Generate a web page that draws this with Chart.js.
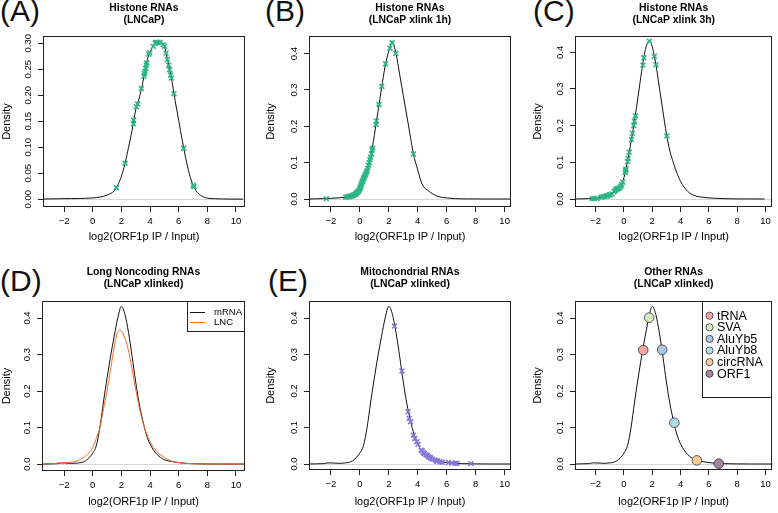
<!DOCTYPE html>
<html><head><meta charset="utf-8">
<script src="https://cdn.jsdelivr.net/npm/chart.js@4.4.0/dist/chart.umd.min.js"></script>
<style>
html,body{margin:0;padding:0;background:#fff;}
body{width:778px;height:513px;position:relative;overflow:hidden;}
canvas{position:absolute;}
.lab{position:absolute;font-family:'Liberation Sans',Arial,sans-serif;font-size:30px;line-height:30px;color:#111;white-space:nowrap;}
</style></head><body>
<div class="lab" style="left:0px;top:-4px">(A)</div>
<div class="lab" style="left:265px;top:-4px">(B)</div>
<div class="lab" style="left:533px;top:-4px">(C)</div>
<div class="lab" style="left:0px;top:266px">(D)</div>
<div class="lab" style="left:268px;top:266px">(E)</div>
<canvas id="cA" width="258" height="246" style="left:0px;top:0px"></canvas>
<canvas id="cB" width="260" height="246" style="left:264px;top:0px"></canvas>
<canvas id="cC" width="247" height="246" style="left:531px;top:0px"></canvas>
<canvas id="cD" width="258" height="247" style="left:0px;top:264px"></canvas>
<canvas id="cE" width="260" height="247" style="left:264px;top:264px"></canvas>
<canvas id="cF" width="247" height="247" style="left:531px;top:264px"></canvas>
<script>
// ---------- axis ticks ----------
const xTickValues = [-2, 0, 2, 4, 6, 8, 10];
const xTickLabels = ['\u22122', '0', '2', '4', '6', '8', '10'];
const yTicksA = [0, 0.05, 0.10, 0.15, 0.20, 0.25, 0.30];
const yTickLabelsA = ['0.00', '0.05', '0.10', '0.15', '0.20', '0.25', '0.30'];
const yTicks = [0, 0.1, 0.2, 0.3, 0.4];
const yTickLabels = ['0.0', '0.1', '0.2', '0.3', '0.4'];
const xAxisTitle = 'log2(ORF1p IP / Input)';
const yAxisTitle = 'Density';

// ---------- panel A: histone RNAs (LNCaP) ----------
const histA_x = [-3.47,-3,-2.5,-2,-1.5,-1,-0.5,0,0.5,1,1.5,1.75,2,2.25,2.5,2.75,3,3.25,3.5,3.75,4,4.25,4.5,4.75,5,5.25,5.5,5.75,6,6.25,6.5,6.75,7,7.25,7.5,8,8.5,9,9.5,10,10.5];
const histA_y = [0.0003,0.0006,0.0008,0.001,0.0012,0.0013,0.0017,0.0025,0.004,0.008,0.016,0.027,0.044,0.068,0.10,0.133,0.172,0.195,0.225,0.262,0.283,0.295,0.302,0.302,0.295,0.265,0.232,0.19,0.152,0.113,0.078,0.048,0.028,0.015,0.008,0.002,0.001,0.0005,0.0003,0.0002,0.0001];
const histApts_x = [1.65,2.26,2.84,2.86,3.05,3.14,3.40,3.58,3.62,3.65,3.70,3.74,3.77,3.91,3.98,4.23,4.37,4.42,4.47,4.56,4.70,4.93,5.02,5.12,5.21,5.30,5.37,5.44,5.49,5.67,6.35,7.02,7.07];
const histApts_y = [0.022,0.069,0.145,0.152,0.178,0.183,0.213,0.237,0.242,0.246,0.252,0.258,0.262,0.279,0.282,0.294,0.300,0.301,0.302,0.301,0.302,0.297,0.294,0.281,0.269,0.258,0.249,0.239,0.233,0.203,0.098,0.027,0.024];

// ---------- panel B: histone RNAs (LNCaP xlink 1h) ----------
const histB_x = [-3.5,-3,-2.5,-2,-1.5,-1,-0.5,-0.25,0,0.25,0.5,0.75,1,1.25,1.5,1.75,2,2.25,2.5,2.75,3,3.25,3.5,3.7,4,4.3,4.75,5,5.4,6,6.6,7.5,8.5,10.44];
const histB_y = [0,0.0005,0.001,0.002,0.003,0.005,0.009,0.015,0.028,0.055,0.078,0.115,0.175,0.24,0.305,0.366,0.407,0.432,0.40,0.343,0.285,0.228,0.17,0.124,0.08,0.041,0.022,0.015,0.007,0.003,0.001,0.0003,0.0001,0];
const histBpts_x = [-2.31,-0.97,-0.85,-0.78,-0.7,-0.62,-0.55,-0.48,-0.42,-0.35,-0.3,-0.25,-0.2,-0.15,-0.1,-0.05,0.0,0.03,0.07,0.1,0.14,0.18,0.22,0.26,0.3,0.35,0.4,0.45,0.5,0.55,0.6,0.65,0.7,0.75,0.8,0.85,0.88,1.12,1.14,1.32,1.52,1.78,2.08,2.22,2.49,3.70];
const histBpts_y = [0.001,0.005,0.006,0.007,0.007,0.008,0.008,0.01,0.011,0.012,0.013,0.015,0.017,0.019,0.021,0.024,0.028,0.031,0.036,0.04,0.045,0.048,0.052,0.056,0.06,0.064,0.068,0.073,0.078,0.085,0.093,0.100,0.108,0.115,0.124,0.135,0.14,0.205,0.215,0.26,0.31,0.372,0.415,0.430,0.401,0.124];

// ---------- panel C: histone RNAs (LNCaP xlink 3h) ----------
const histC_x = [-3.46,-3,-2.5,-2,-1.5,-1,-0.75,-0.5,-0.25,0,0.25,0.5,0.75,1,1.25,1.5,1.8,2,2.25,2.5,2.75,3,3.25,3.5,3.75,4,4.5,5,5.5,6,7,8,9.93];
const histC_y = [0,0.0005,0.001,0.002,0.006,0.011,0.018,0.028,0.033,0.058,0.102,0.155,0.215,0.28,0.348,0.405,0.43,0.415,0.368,0.305,0.24,0.178,0.13,0.098,0.07,0.048,0.021,0.009,0.005,0.003,0.001,0.0003,0];
const histCpts_x = [-2.24,-2.1,-1.9,-1.6,-1.48,-1.35,-1.25,-1.15,-1.05,-0.97,-0.85,-0.7,-0.62,-0.55,-0.51,-0.45,-0.38,-0.3,-0.22,-0.16,-0.09,0.09,0.12,0.14,0.25,0.3,0.37,0.53,0.6,0.69,0.74,0.81,1.34,1.41,1.80,2.15,2.26,3.03];
const histCpts_y = [0.001,0.001,0.002,0.005,0.006,0.007,0.008,0.009,0.011,0.012,0.014,0.02,0.023,0.026,0.028,0.028,0.029,0.031,0.035,0.039,0.046,0.073,0.078,0.082,0.102,0.111,0.128,0.162,0.179,0.200,0.212,0.227,0.365,0.385,0.43,0.389,0.366,0.172];

// ---------- panels D-F: mRNA / LNC densities (LNCaP xlinked) ----------
const mRNA_x = [-3.54,-3,-2.5,-2.2,-2,-1.5,-1,-0.5,0,0.25,0.5,0.75,1,1.25,1.5,1.75,2,2.25,2.5,2.75,3,3.25,3.5,3.75,4,4.25,4.5,5,5.5,6,6.5,7,8,9,10.63];
const mRNA_y = [0,0.0005,0.001,0.003,0.003,0.002,0.003,0.009,0.030,0.05,0.10,0.17,0.235,0.296,0.35,0.40,0.432,0.41,0.36,0.295,0.225,0.165,0.118,0.08,0.055,0.038,0.026,0.012,0.007,0.004,0.002,0.001,0.0003,0.0001,0];
const lnc_x = [-3.54,-3,-2.5,-2.2,-2,-1.5,-1,-0.5,0,0.25,0.5,0.75,1,1.25,1.5,1.75,1.9,2,2.25,2.5,2.75,3,3.25,3.5,3.75,4,4.25,4.5,4.75,5,5.5,6,7,8,10.63];
const lnc_y = [0,0.001,0.002,0.004,0.004,0.005,0.01,0.022,0.045,0.07,0.10,0.15,0.20,0.26,0.32,0.363,0.367,0.364,0.345,0.31,0.26,0.205,0.155,0.115,0.085,0.062,0.045,0.033,0.025,0.018,0.008,0.004,0.001,0.0003,0];
const densityLabels = ['mRNA', 'LNC'];

const mito_x = [2.40,2.91,3.33,3.40,3.51,3.70,3.81,3.93,4.02,4.23,4.32,4.39,4.46,4.57,4.67,4.74,4.85,4.9,5.03,5.2,5.31,5.36,5.54,5.68,6.12,6.35,6.58,6.7,7.67];
const mito_y = [0.378,0.255,0.143,0.125,0.116,0.079,0.070,0.061,0.054,0.038,0.036,0.031,0.029,0.025,0.024,0.020,0.018,0.016,0.013,0.011,0.008,0.008,0.006,0.005,0.004,0.003,0.002,0.002,0.001];

const otherLabels = ['tRNA', 'SVA', 'AluYb5', 'AluYb8', 'circRNA', 'ORF1'];
const other_x = [1.36, 1.78, 2.70, 3.56, 5.15, 6.70];
const other_y = [0.312, 0.401, 0.313, 0.113, 0.010, 0.001];
const otherColors = ['#F5A7A1', '#D3ECC4', '#AFC6E2', '#B1DAEA', '#F8CF9A', '#A4849F'];

// ---------- styling ----------
const FONT = "'Liberation Sans', Arial, Helvetica, sans-serif";
const GREEN = '#2db489';
const PURPLE = '#8677d6';
const ORANGE = '#f26b22';
const LINE = '#111111';

const xy = (xs, ys) => xs.map((x, i) => ({x: x, y: ys[i]}));

const rBox = {
  id: 'rBox',
  beforeDatasetsDraw(chart) {
    const {ctx, chartArea: a, scales: {y}} = chart;
    const py = Math.round(y.getPixelForValue(0)) + 0.5;
    ctx.save();
    ctx.strokeStyle = '#d6d6d6'; ctx.lineWidth = 1;
    ctx.beginPath(); ctx.moveTo(a.left, py); ctx.lineTo(a.right, py); ctx.stroke();
    ctx.restore();
  },
  afterDraw(chart, args, opts) {
    const {ctx, chartArea: a} = chart;
    ctx.save();
    ctx.strokeStyle = '#222'; ctx.lineWidth = 1;
    const l = Math.round(a.left), t = Math.round(a.top), r = Math.round(a.right), b = Math.round(a.bottom);
    ctx.strokeRect(l + 0.5, t + 0.5, r - l - 1, b - t - 1);
    const L = opts.legend;
    if (L) {
      const x0 = r - L.w, y0 = t;
      ctx.fillStyle = '#fff'; ctx.fillRect(x0, y0, L.w, L.h);
      ctx.strokeStyle = '#222';
      ctx.strokeRect(x0 + 0.5, y0 + 0.5, L.w - 1, L.h - 1);
      ctx.font = L.size + 'px ' + FONT;
      ctx.textBaseline = 'middle'; ctx.textAlign = 'left';
      L.items.forEach((it, i) => {
        const yy = y0 + L.first + i * L.row;
        if (it.kind === 'line') {
          ctx.strokeStyle = it.color; ctx.lineWidth = 1;
          ctx.beginPath(); ctx.moveTo(x0 + L.sx, Math.round(yy) + 0.5); ctx.lineTo(x0 + L.sx + L.sl, Math.round(yy) + 0.5); ctx.stroke();
        } else {
          ctx.beginPath(); ctx.arc(x0 + L.sx, yy, L.r, 0, Math.PI * 2);
          ctx.fillStyle = it.color; ctx.fill();
          ctx.strokeStyle = '#333'; ctx.lineWidth = 0.8; ctx.stroke();
        }
        ctx.fillStyle = '#000';
        ctx.fillText(it.label, x0 + L.tx, yy + 0.5);
      });
    }
    ctx.restore();
  }
};

function curve(xs, ys, color) {
  return {data: xy(xs, ys), showLine: true, borderColor: color || LINE, borderWidth: 1,
          pointRadius: 0, cubicInterpolationMode: 'monotone', fill: false};
}
function crosses(xs, ys, color) {
  return {data: xy(xs, ys), showLine: false, pointStyle: 'crossRot', pointRadius: 3.4,
          pointBorderColor: color, borderColor: color, pointBorderWidth: 1.6, pointBackgroundColor: color};
}

function makeChart(id, g, datasets, legend) {
  return new Chart(document.getElementById(id), {
    type: 'scatter',
    data: {datasets: datasets},
    options: {
      responsive: false, animation: false, devicePixelRatio: 1,
      layout: {padding: {left: 0, top: 0, bottom: 0, right: g.pr}},
      plugins: {
        legend: {display: false}, tooltip: {enabled: false},
        title: {display: true, text: g.title, fullSize: false, color: '#000',
                font: {family: FONT, size: 10.4, weight: 'bold', lineHeight: 1.1},
                padding: {top: 2.5, bottom: g.tpb}},
        rBox: {legend: legend}
      },
      scales: {
        x: {type: 'linear', position: 'bottom', min: g.xmin, max: g.xmax,
            afterBuildTicks: s => { s.ticks = xTickValues.map(v => ({value: v})); },
            afterFit: s => { s.height = g.xh; s.paddingLeft = 0; s.paddingRight = 0; },
            ticks: {callback: (v, i) => xTickLabels[i], color: '#000', font: {family: FONT, size: 9.5},
                    padding: 4, maxRotation: 0, minRotation: 0, autoSkip: false},
            grid: {display: true, drawOnChartArea: false, drawTicks: true, tickLength: 5, color: '#222', lineWidth: 1},
            border: {display: false},
            title: {display: true, text: xAxisTitle, color: '#000', font: {family: FONT, size: 11, lineHeight: 1.1},
                    padding: {top: 0, bottom: 2.5}}},
        y: {type: 'linear', position: 'left', min: g.ymin, max: g.ymax,
            afterBuildTicks: s => { s.ticks = g.yt.map(v => ({value: v})); },
            afterFit: s => { s.width = g.yw; s.paddingTop = 0; s.paddingBottom = 0; },
            ticks: {callback: (v, i) => g.yl[i], color: '#000', font: {family: FONT, size: 9.5},
                    padding: g.yp, minRotation: 90, maxRotation: 90, crossAlign: 'center', autoSkip: false},
            grid: {display: true, drawOnChartArea: false, drawTicks: true, tickLength: 5, color: '#222', lineWidth: 1},
            border: {display: false},
            title: {display: true, text: yAxisTitle, color: '#000', font: {family: FONT, size: 11, lineHeight: 1.1},
                    padding: {top: 1, bottom: 0}}}
      }
    },
    plugins: [rBox]
  });
}

makeChart('cA', {title: ['Histone RNAs', '(LNCaP)'], tpb: 10.62, pr: 13, xh: 39, yw: 43, yp: 0.5,
  xmin: -3.47, xmax: 10.63, ymin: -0.015, ymax: 0.314, yt: yTicksA, yl: yTickLabelsA},
  [crosses(histApts_x, histApts_y, GREEN), curve(histA_x, histA_y)]);

makeChart('cB', {title: ['Histone RNAs', '(LNCaP xlink 1h)'], tpb: 10.62, pr: 13, xh: 39, yw: 45, yp: 3,
  xmin: -3.51, xmax: 10.44, ymin: -0.022, ymax: 0.4486, yt: yTicks, yl: yTickLabels},
  [crosses(histBpts_x, histBpts_y, GREEN), curve(histB_x, histB_y)]);

makeChart('cC', {title: ['Histone RNAs', '(LNCaP xlink 3h)'], tpb: 10.62, pr: 1, xh: 39, yw: 44, yp: 3,
  xmin: -3.46, xmax: 10.49, ymin: -0.0218, ymax: 0.4444, yt: yTicks, yl: yTickLabels},
  [crosses(histCpts_x, histCpts_y, GREEN), curve(histC_x, histC_y)]);

makeChart('cD', {title: ['Long Noncoding RNAs', '(LNCaP xlinked)'], tpb: 11.62, pr: 13, xh: 40, yw: 42, yp: 3,
  xmin: -3.54, xmax: 10.63, ymin: -0.019, ymax: 0.4466, yt: yTicks, yl: yTickLabels},
  [Object.assign(curve(lnc_x, lnc_y, ORANGE), {label: densityLabels[1]}),
   Object.assign(curve(mRNA_x, mRNA_y, LINE), {label: densityLabels[0]})],
  {w: 58, h: 31, first: 10.5, row: 10.5, sx: 3, sl: 15, tx: 27, size: 9.5,
   items: [{kind: 'line', color: LINE, label: densityLabels[0]}, {kind: 'line', color: ORANGE, label: densityLabels[1]}]});

makeChart('cE', {title: ['Mitochondrial RNAs', '(LNCaP xlinked)'], tpb: 11.62, pr: 13, xh: 41, yw: 45, yp: 3,
  xmin: -3.51, xmax: 10.44, ymin: -0.0164, ymax: 0.4466, yt: yTicks, yl: yTickLabels},
  [crosses(mito_x, mito_y, PURPLE), curve(mRNA_x, mRNA_y)]);

makeChart('cF', {title: ['Other RNAs', '(LNCaP xlinked)'], tpb: 11.62, pr: 1, xh: 41, yw: 44, yp: 3,
  xmin: -3.46, xmax: 10.49, ymin: -0.0164, ymax: 0.4466, yt: yTicks, yl: yTickLabels},
  [{data: xy(other_x, other_y), showLine: false, pointStyle: 'circle', pointRadius: 4.8,
    pointBackgroundColor: otherColors, pointBorderColor: '#333', pointBorderWidth: 0.8},
   curve(mRNA_x, mRNA_y)],
  {w: 70, h: 97, first: 14.7, row: 11.6, sx: 7.5, r: 3.6, tx: 15, size: 12.5,
   items: otherLabels.map((l, i) => ({kind: 'circle', color: otherColors[i], label: l}))});
</script>
</body></html>
